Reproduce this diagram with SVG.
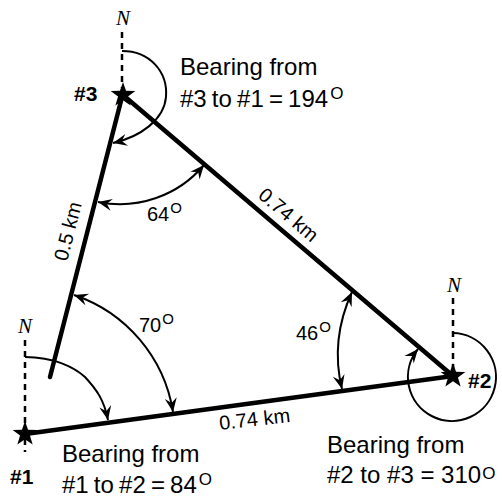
<svg xmlns="http://www.w3.org/2000/svg" width="502" height="497" viewBox="0 0 502 497">
<style>
.side{stroke:#000;stroke-width:4.5;stroke-linecap:round;fill:none}
.north{stroke:#000;stroke-width:2.5;stroke-dasharray:6 5;fill:none}
.arc{stroke:#000;stroke-width:2;fill:none}
.t{font-family:"Liberation Sans",Arial,sans-serif;font-size:24px;fill:#000}
.sm{font-family:"Liberation Sans",Arial,sans-serif;font-size:20px;fill:#000}
.ang{font-family:"Liberation Sans",Arial,sans-serif;font-size:20px;fill:#000}
.lbl{font-family:"Liberation Sans",Arial,sans-serif;font-size:21px;font-weight:bold;fill:#000}
.n{font-family:"Liberation Serif","Times New Roman",serif;font-style:italic;font-size:21px;fill:#000}
</style>
<defs>
<marker id="ah" viewBox="-15 -7 16 14" markerWidth="16" markerHeight="14" refX="0" refY="0" orient="auto-start-reverse" markerUnits="userSpaceOnUse">
<path d="M0,0 L-14,-6 L-9,0 L-14,6 Z" fill="#000"/>
</marker>
<path id="star" d="M0,-13 L3.06,-4.21 L12.36,-4.02 L4.95,1.61 L7.64,10.52 L0,5.2 L-7.64,10.52 L-4.95,1.61 L-12.36,-4.02 L-3.06,-4.21 Z" fill="#000"/>
</defs>
<rect width="502" height="497" fill="#fff"/>

<g id="connectors">
<line class="side" x1="123" y1="95" x2="453" y2="376"/>
<line class="side" x1="122" y1="97" x2="50" y2="377"/>
<line class="side" x1="25" y1="434" x2="453" y2="376"/>
<line class="north" x1="122" y1="32" x2="122" y2="88"/>
<line class="north" x1="25" y1="340" x2="25" y2="452"/>
<line class="north" x1="453" y1="298" x2="453" y2="370"/>
<path class="arc" d="M122,51 C150,51 168,72 166,97 C164,120 140,137 113,143" marker-end="url(#ah)"/>
<path class="arc" d="M25,357 C55,357 75,368 85,377 C97,390 104,400 108,420" marker-end="url(#ah)"/>
<path class="arc" d="M453,333 A44,44 0 1 1 418,349" marker-end="url(#ah)"/>
<path class="arc" d="M98,202 A110,110 0 0 0 204,165" marker-start="url(#ah)" marker-end="url(#ah)"/>
<path class="arc" d="M74,295 A148,148 0 0 1 173,412" marker-start="url(#ah)" marker-end="url(#ah)"/>
<path class="arc" d="M352,292 Q330,340 342,389" marker-start="url(#ah)" marker-end="url(#ah)"/>
</g>

<g id="node3">
<use href="#star" x="123" y="95"/>
<text class="n" x="123" y="25" text-anchor="middle">N</text>
<text class="lbl" x="74" y="101">#3</text>
</g>
<g id="node1">
<use href="#star" x="25" y="434"/>
<text class="n" x="25" y="333" text-anchor="middle">N</text>
<text class="lbl" x="10" y="484">#1</text>
</g>
<g id="node2">
<use href="#star" x="453" y="376"/>
<text class="n" x="454" y="292" text-anchor="middle">N</text>
<text class="lbl" x="468" y="388">#2</text>
</g>

<g id="labels">
<text class="t" x="180" y="75">Bearing from</text>
<text class="t" x="180" y="107" word-spacing="-1.5">#3 to #1 = 194<tspan font-size="17" dx="2" dy="-8">O</tspan></text>
<text class="t" x="62" y="462">Bearing from</text>
<text class="t" x="62" y="493" word-spacing="-1.5">#1 to #2 = 84<tspan font-size="17" dx="2" dy="-8">O</tspan></text>
<text class="t" x="327" y="453">Bearing from</text>
<text class="t" x="327" y="483">#2 to #3 = 310<tspan font-size="17" dx="1" dy="-4">O</tspan></text>
<text class="ang" x="147" y="221">64<tspan font-size="15" dx="1" dy="-8">O</tspan></text>
<text class="ang" x="139" y="332">70<tspan font-size="15" dx="1" dy="-8">O</tspan></text>
<text class="ang" x="296" y="340">46<tspan font-size="15" dx="1" dy="-8">O</tspan></text>
<text class="sm" transform="translate(257,197) rotate(40.2)">0.74 km</text>
<text class="sm" transform="translate(67,262) rotate(-75.5)">0.5 km</text>
<text class="sm" transform="translate(220,430) rotate(-6.5)">0.74 km</text>
</g>
</svg>
